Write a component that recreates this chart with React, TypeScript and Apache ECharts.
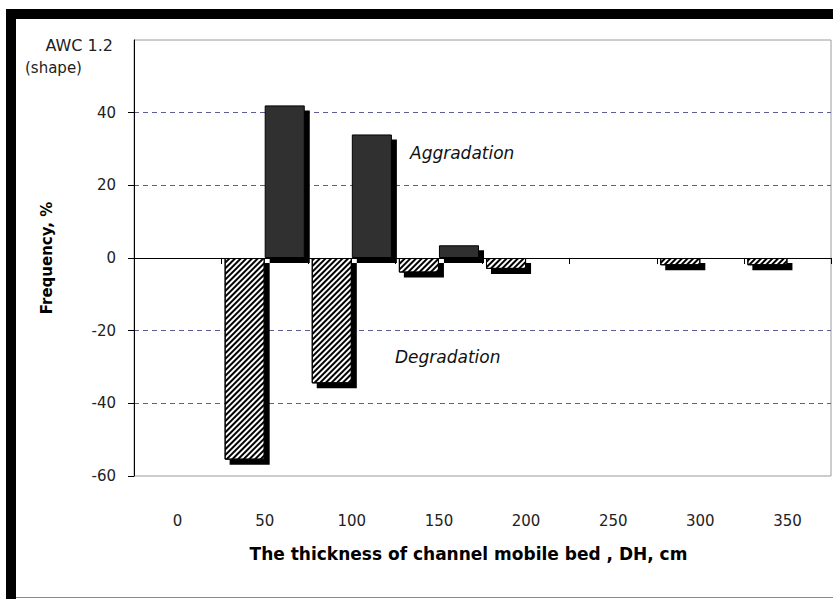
import React, { useEffect, useRef } from "react";
import * as echarts from "echarts";

const categories = ["0", "50", "100", "150", "200", "250", "300", "350"];
const degradation: (number | null)[] = [null, -55.5, -34.5, -4, -3, null, -2, -2];
const aggradation: (number | null)[] = [null, 42, 34, 3.5, null, null, null, null];
const yMin = -60;
const yMax = 60;
const yStep = 20;
const topLabel = ["AWC 1.2", "(shape)"];
const notes = ["Aggradation", "Degradation"];
const xTitle = "The thickness of channel mobile bed , DH, cm";
const yTitle = "Frequency, %";

const FONT = "'DejaVu Sans', 'Liberation Sans', Arial, sans-serif";
const CAT_GAP = 0.08;

export default function App() {
  const ref = useRef<HTMLDivElement>(null);
  useEffect(() => {
    if (!ref.current) return;
    const chart = echarts.init(ref.current, null, { renderer: "svg" });

    // shadow marks derived from the same data (side 0 = degradation, 1 = aggradation)
    const shadowData: number[][] = [];
    degradation.forEach((v, i) => {
      if (v !== null) shadowData.push([i, v, 0]);
    });
    aggradation.forEach((v, i) => {
      if (v !== null) shadowData.push([i, v, 1]);
    });

    chart.setOption({
      animation: false,
      backgroundColor: "#fff",
      grid: {
        left: 134,
        right: 2,
        top: 40,
        bottom: 123,
        show: true,
        borderColor: "#9a9a9a",
        borderWidth: 1,
        backgroundColor: "transparent",
      },
      xAxis: [
        {
          type: "category",
          data: categories,
          position: "bottom",
          axisLine: { show: false, onZero: false },
          axisTick: { show: false },
          axisLabel: {
            margin: 37,
            fontSize: 15,
            color: "#222",
            fontFamily: FONT,
          },
          name: xTitle,
          nameLocation: "middle",
          nameGap: 69,
          nameTextStyle: {
            fontSize: 17,
            fontWeight: "bold",
            color: "#000",
            fontFamily: FONT,
            padding: [0, 28, 0, 0],
          },
        },
        {
          type: "category",
          data: categories,
          position: "bottom",
          axisLine: { show: true, onZero: true, lineStyle: { color: "#000", width: 1 } },
          axisTick: { show: true, length: 6, lineStyle: { color: "#000" } },
          axisLabel: { show: false },
        },
      ],
      yAxis: {
        type: "value",
        min: yMin,
        max: yMax,
        interval: yStep,
        axisLine: { show: true, lineStyle: { color: "#000", width: 1 } },
        axisTick: { show: true, length: 6, lineStyle: { color: "#000" } },
        axisLabel: {
          margin: 18,
          fontSize: 15,
          color: "#222",
          fontFamily: FONT,
          showMaxLabel: false,
        },
        splitLine: {
          show: true,
          showMinLine: false,
          showMaxLine: false,
          lineStyle: { color: "#5e5e96", type: [5, 4], width: 1 },
        },
        name: yTitle,
        nameLocation: "middle",
        nameRotate: 90,
        nameGap: 80,
        nameTextStyle: {
          fontSize: 15,
          fontWeight: "bold",
          color: "#000",
          fontFamily: FONT,
        },
      },
      series: [
        {
          type: "custom",
          xAxisIndex: 0,
          yAxisIndex: 0,
          data: shadowData,
          encode: { x: 0, y: 1 },
          silent: true,
          renderItem: (params: any, api: any) => {
            const i = api.value(0);
            const v = api.value(1);
            const side = api.value(2);
            const band = api.size([1, 0])[0];
            const barW = (band * (1 - CAT_GAP)) / 2;
            const base = api.coord([i, 0]);
            const top = api.coord([i, v]);
            const x = base[0] - barW + side * barW + 5;
            const y = Math.min(base[1], top[1]) + 5;
            return {
              type: "rect",
              shape: { x, y, width: barW, height: Math.abs(top[1] - base[1]) },
              style: { fill: "#000" },
            };
          },
        },
        {
          type: "bar",
          xAxisIndex: 0,
          data: degradation,
          barGap: "0%",
          barCategoryGap: `${CAT_GAP * 100}%`,
          itemStyle: {
            color: "#fff",
            borderColor: "#000",
            borderWidth: 1,
            decal: {
              symbol: "rect",
              symbolSize: 1,
              dashArrayX: [1, 0],
              dashArrayY: [1.1, 1.9],
              rotation: -Math.PI / 4,
              color: "#000",
              backgroundColor: "#fff",
            },
          },
        },
        {
          type: "bar",
          xAxisIndex: 0,
          data: aggradation,
          barGap: "0%",
          barCategoryGap: `${CAT_GAP * 100}%`,
          itemStyle: {
            color: "#303030",
            borderColor: "#000",
            borderWidth: 1,
          },
        },
      ],
      graphic: [
        { type: "rect", shape: { x: 6, y: 9, width: 827, height: 10 }, style: { fill: "#000" } },
        { type: "rect", shape: { x: 6, y: 9, width: 10, height: 590 }, style: { fill: "#000" } },
        { type: "line", shape: { x1: 16, y1: 597.5, x2: 833, y2: 597.5 }, style: { stroke: "#8a8a8a", lineWidth: 1 } },
        {
          type: "text",
          x: 113,
          y: 45,
          style: { text: topLabel[0], align: "right", verticalAlign: "middle", font: `16px ${FONT}`, fill: "#222" },
        },
        {
          type: "text",
          x: 25,
          y: 68,
          style: { text: topLabel[1], align: "left", verticalAlign: "middle", font: `15px ${FONT}`, fill: "#222" },
        },
        {
          type: "text",
          x: 410,
          y: 153,
          style: { text: notes[0], align: "left", verticalAlign: "middle", font: `italic 17px ${FONT}`, fill: "#111" },
        },
        {
          type: "text",
          x: 395,
          y: 357,
          style: { text: notes[1], align: "left", verticalAlign: "middle", font: `italic 17px ${FONT}`, fill: "#111" },
        },
      ],
    });
    return () => chart.dispose();
  }, []);
  return (
    <div
      ref={ref}
      style={{ position: "absolute", left: 0, top: 0, width: 833, height: 599, background: "#fff" }}
    />
  );
}
